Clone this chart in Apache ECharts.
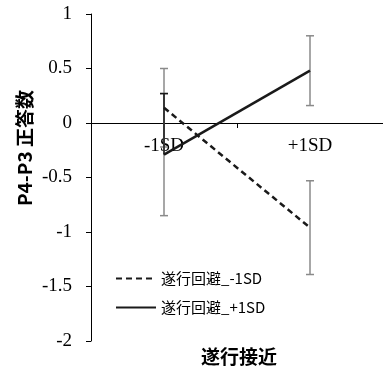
<!DOCTYPE html>
<html><head><meta charset="utf-8">
<script src="https://cdn.jsdelivr.net/npm/echarts@6/dist/echarts.min.js"></script>
<style>html,body{margin:0;padding:0;background:#fff}#c{width:383px;height:370px}</style>
</head><body><div id="c"></div>
<script>
const categories = ['-1SD', '+1SD'];
const yTicks = { min: -2, max: 1, interval: 0.5 };
const avoidLowName = '遂行回避_-1SD';
const avoidHighName = '遂行回避_+1SD';
const avoidLow = [0.14, -0.96];
const avoidHigh = [-0.29, 0.48];
const avoidLowErrUpper = [0.50, -0.53];
const avoidLowErrLower = [-0.22, -1.39];
const avoidHighErrUpper = [0.27, 0.80];
const avoidHighErrLower = [-0.85, 0.16];
const xName = '遂行接近';
const yName = 'P4-P3 正答数';

const errData = [];
for (let i = 0; i < categories.length; i++) {
  errData.push([i, avoidLowErrLower[i], avoidLowErrUpper[i]]);
  errData.push([i, avoidHighErrLower[i], avoidHighErrUpper[i]]);
}
const blackArm = [[0, avoidHigh[0], avoidHighErrUpper[0]]];

function errRender(color, capBottom) {
  return function (params, api) {
    const x = api.value(0);
    const lo = api.coord([x, api.value(1)]);
    const hi = api.coord([x, api.value(2)]);
    const hw = 4;
    const style = { stroke: color, lineWidth: 1.5 };
    const children = [
      { type: 'line', shape: { x1: lo[0], y1: lo[1], x2: hi[0], y2: hi[1] }, style: style },
      { type: 'line', shape: { x1: hi[0] - hw, y1: hi[1], x2: hi[0] + hw, y2: hi[1] }, style: style }
    ];
    if (capBottom) children.push({ type: 'line', shape: { x1: lo[0] - hw, y1: lo[1], x2: lo[0] + hw, y2: lo[1] }, style: style });
    return { type: 'group', children: children };
  };
}

const gridTop = 14, gridBottom = 29, H = 370;
const plotH = H - gridTop - gridBottom;
const zeroFromBottom = plotH * (0 - yTicks.min) / (yTicks.max - yTicks.min);

const chart = echarts.init(document.getElementById('c'));
chart.setOption({
  animation: false,
  grid: { left: 91, right: -4, top: gridTop, bottom: gridBottom },
  xAxis: {
    type: 'category', data: categories, boundaryGap: true,
    offset: -zeroFromBottom,
    axisLine: { onZero: false, lineStyle: { color: '#000', width: 1 } },
    axisTick: { show: true, length: 5, lineStyle: { color: '#000' } },
    axisLabel: { color: '#000', fontFamily: 'Liberation Serif', fontSize: 19, margin: 14 }
  },
  yAxis: {
    type: 'value', min: yTicks.min, max: yTicks.max, interval: yTicks.interval,
    splitLine: { show: false },
    axisLine: { show: true, lineStyle: { color: '#000', width: 1 } },
    axisTick: { show: true, length: 5, lineStyle: { color: '#000' } },
    axisLabel: { color: '#000', fontFamily: 'Liberation Serif', fontSize: 19, margin: 19 }
  },
  legend: {
    orient: 'vertical', left: 110, top: 266, itemWidth: 40, itemHeight: 12, itemGap: 14,
    itemStyle: { opacity: 0 },
    textStyle: { color: '#000', fontFamily: 'Noto Sans CJK JP', fontSize: 15 },
    data: [avoidLowName, avoidHighName]
  },
  graphic: [
    { type: 'text', x: 25, y: 148, rotation: Math.PI / 2,
      style: { text: yName, fill: '#000', font: 'bold 19px "Noto Sans CJK JP"', align: 'center', verticalAlign: 'middle' } },
    { type: 'text', x: 239, y: 357,
      style: { text: xName, fill: '#000', font: 'bold 19px "Noto Sans CJK JP"', align: 'center', verticalAlign: 'middle' } }
  ],
  series: [
    { type: 'custom', name: 'err', data: errData, renderItem: errRender('#8a8a8a', true), z: 1, silent: true },
    { type: 'custom', name: 'arm', data: blackArm, renderItem: errRender('#1a1a1a', false), z: 2, silent: true },
    { type: 'line', name: avoidLowName, data: avoidLow, symbol: 'none', z: 3,
      lineStyle: { color: '#1a1a1a', width: 2.5, type: [6, 4] }, itemStyle: { color: '#1a1a1a' } },
    { type: 'line', name: avoidHighName, data: avoidHigh, symbol: 'none', z: 3,
      lineStyle: { color: '#1a1a1a', width: 2.5, type: 'solid' }, itemStyle: { color: '#1a1a1a' } }
  ]
});
</script></body></html>
